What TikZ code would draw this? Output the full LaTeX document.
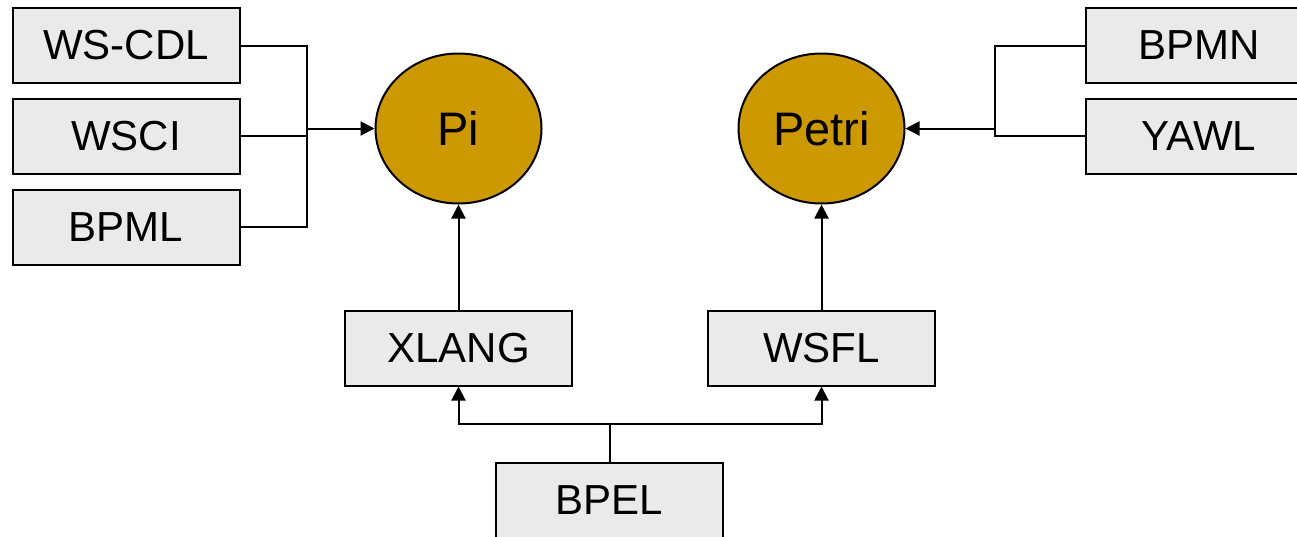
\documentclass[tikz,border=0pt]{standalone}
\usepackage{fontspec}
\setmainfont{Liberation Sans}
\usetikzlibrary{arrows.meta,shapes.geometric}
\definecolor{boxgray}{HTML}{EAEAEA}
\definecolor{gold}{HTML}{CC9900}
\begin{document}
\begin{tikzpicture}[x=1pt,y=-1pt,
  box/.style={draw=black, fill=boxgray, line width=2pt, minimum width=227pt, minimum height=75pt, inner sep=0pt, font=\fontsize{42}{48}\selectfont},
  lang/.style={ellipse, draw=black, fill=gold, line width=2pt, minimum width=166pt, minimum height=150pt, inner sep=0pt, font=\fontsize{47}{54}\selectfont},
  conn/.style={line width=2pt},
  arr/.style={conn, -{Triangle[length=14pt,width=14pt]}}]
\useasboundingbox (0,0) rectangle (1297,536);
\clip (0,0) rectangle (1297,536);
\node[box] (WSCDL) at (126,45.5) {WS-CDL};
\node[box] (WSCI) at (126,136) {WSCI};
\node[box] (BPML) at (126,227) {BPML};
\node[box] (BPMN) at (1199,45.5) {BPMN};
\node[box] (YAWL) at (1199,136) {YAWL};
\node[lang] (Pi) at (458.5,128.5) {Pi};
\node[lang] (Petri) at (821.5,128.5) {Petri};
\node[box] (XLANG) at (458.5,348) {XLANG};
\node[box] (WSFL) at (821.5,348) {WSFL};
\node[box] (BPEL) at (609.5,500) {BPEL};
\coordinate (jl) at (307,128.5);
\coordinate (jr) at (995,128.5);
\coordinate (jb) at (609.5,424);
\draw[conn] (WSCDL.east) -| (jl) |- (BPML.east);
\draw[conn] (WSCI.east) -- (WSCI.east -| jl);
\draw[arr] (jl) -- (Pi.west);
\draw[conn] (BPMN.west) -| (jr) |- (YAWL.west);
\draw[arr] (jr) -- (Petri.east);
\draw[arr] (XLANG.north) -- (Pi.south);
\draw[arr] (WSFL.north) -- (Petri.south);
\draw[conn] (BPEL.north) -- (jb);
\draw[arr] (jb) -| (XLANG.south);
\draw[arr] (jb) -| (WSFL.south);
\end{tikzpicture}
\end{document}
